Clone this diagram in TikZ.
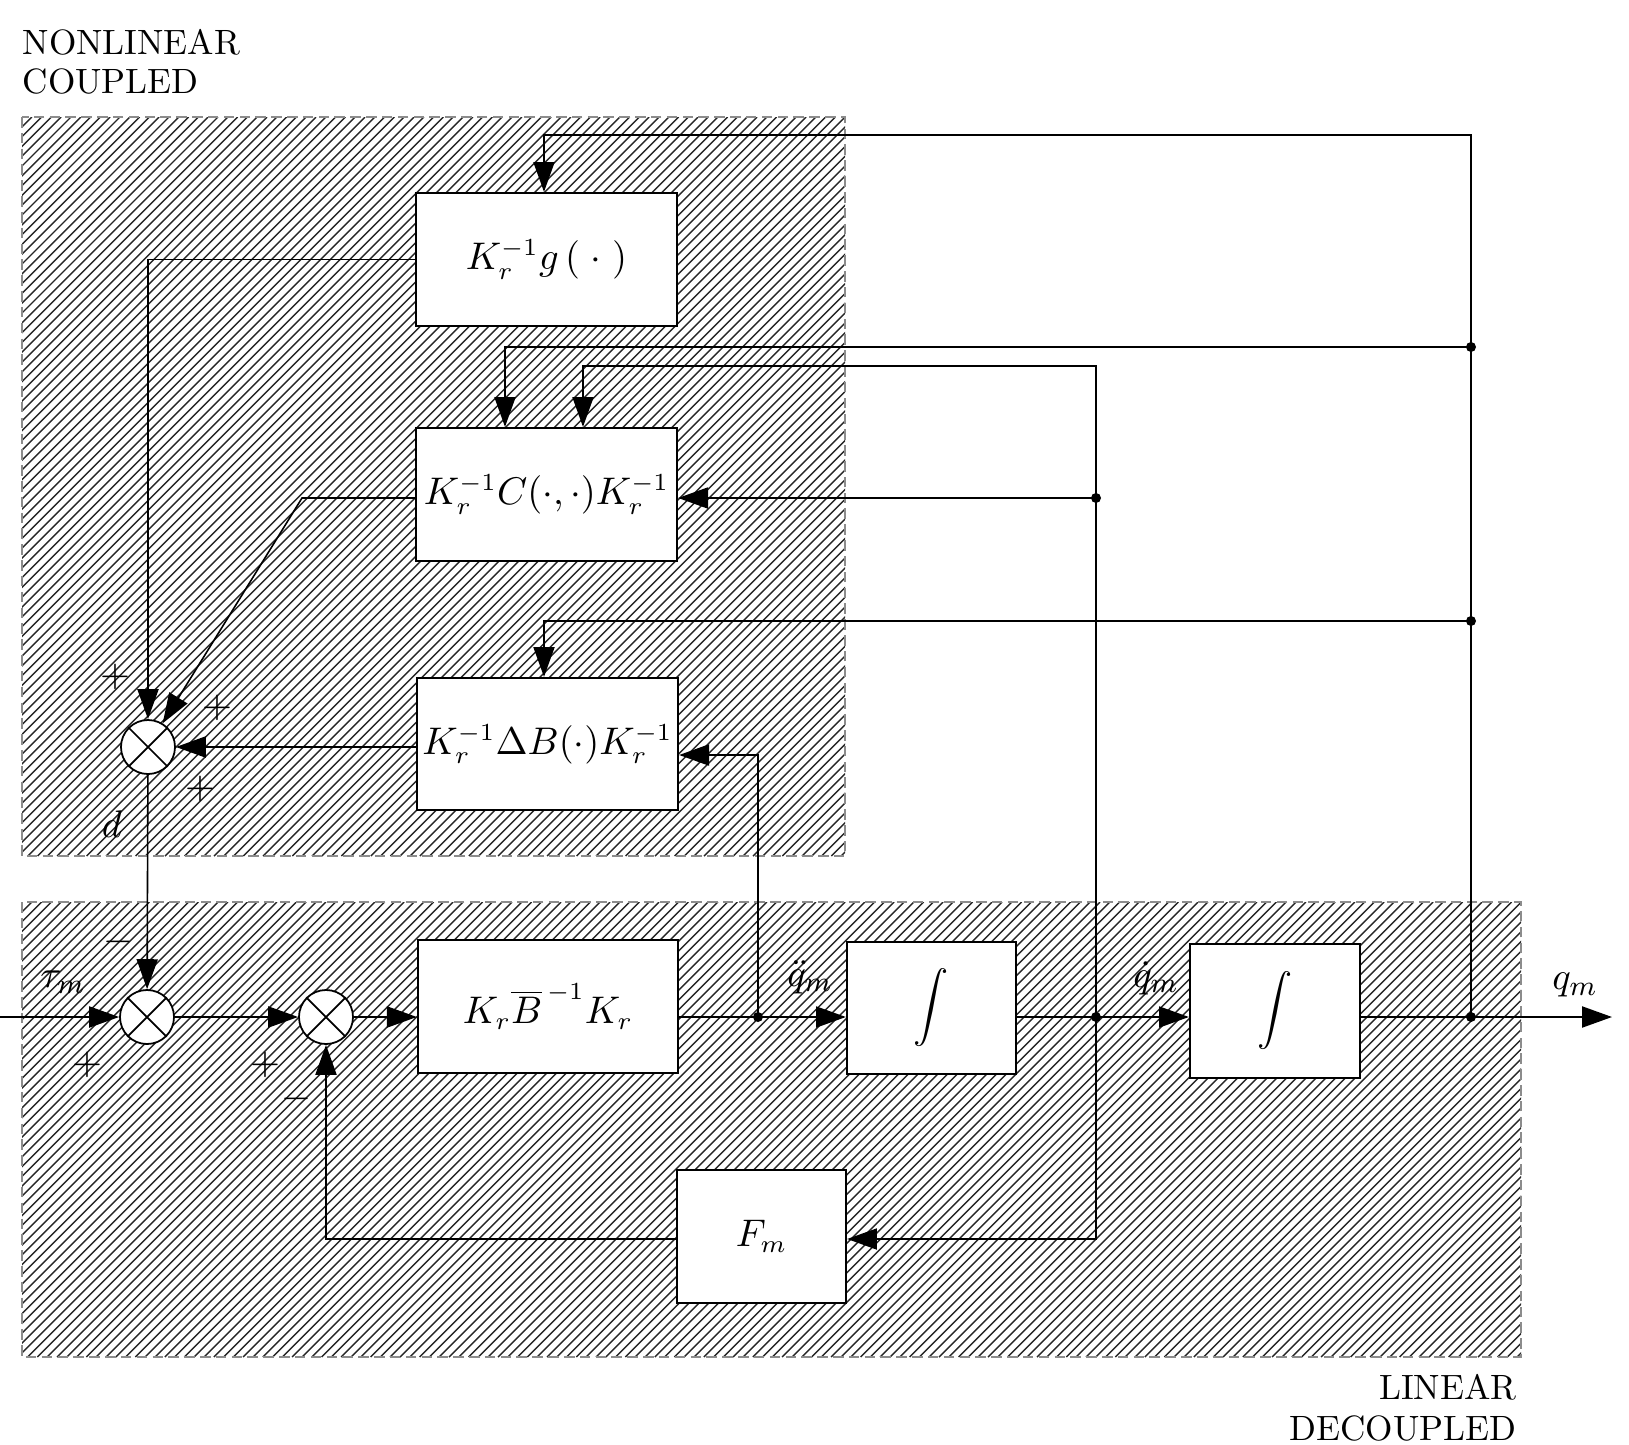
\documentclass[tikz,border=0pt]{standalone}
\usetikzlibrary{arrows.meta}
\begin{document}
\begin{tikzpicture}[x=0.01cm,y=-0.01cm,
  blk/.style={draw,line width=0.6pt,fill=white,inner sep=0pt,font=\fontsize{10.5}{12}\selectfont},
  sumj/.style={draw,line width=0.5pt,circle,fill=white,minimum size=0.54cm,inner sep=0pt},
  conn/.style={line width=0.45pt},
  arr/.style={conn,-{Triangle[length=8.5pt,width=6pt]}},
  dotj/.style={circle,fill=black,inner sep=0pt,minimum size=0.1cm},
  lbl/.style={inner sep=0pt,font=\fontsize{11}{12}\selectfont},
  ttl/.style={inner sep=0pt,font=\fontsize{10}{11}\selectfont},
  hatchl/.style={line width=0.4pt,black!85},
  region/.style={draw=black!45,dash pattern=on 3pt off 1.5pt,line width=0.4pt}]
\useasboundingbox (0,0) rectangle (1629,1445);

% ---------- hatched regions ----------
\begin{scope}
  \clip (22,117) rectangle (845,856);
  \foreach \i in {0,...,161} { \draw[hatchl] ({-717+\i*9.8},856) -- ++(739,-739); }
\end{scope}
\draw[region] (22,117) rectangle (845,856);
\begin{scope}
  \clip (22,902) rectangle (1521,1357);
  \foreach \i in {0,...,200} { \draw[hatchl] ({-433+\i*9.8},1357) -- ++(455,-455); }
\end{scope}
\draw[region] (22,902) rectangle (1521,1357);

% ---------- titles ----------
\node[ttl,anchor=base west] (tA) at (22,54) {NONLINEAR};
\node[ttl,anchor=base west] (tB) at (22,93) {COUPLED};
\node[ttl,anchor=base east] (tC) at (1517,1399) {LINEAR};
\node[ttl,anchor=base east] (tD) at (1517,1440) {DECOUPLED};

% ---------- blocks ----------
\node[blk,minimum width=2.61cm,minimum height=1.33cm] (g) at (546.5,259.5) {$K_r^{-1}g\,(\;\cdot\;)$};
\node[blk,minimum width=2.61cm,minimum height=1.33cm] (C) at (546.5,494.5) {$K_r^{-1}C(\cdot,\cdot)K_r^{-1}$};
\node[blk,minimum width=2.61cm,minimum height=1.32cm] (dB) at (547.5,744) {$K_r^{-1}\Delta B(\cdot)K_r^{-1}$};
\node[blk,minimum width=2.60cm,minimum height=1.33cm] (KBK) at (548,1006.5) {$K_r\overline{B}^{\,-1}K_r$};
\node[blk,minimum width=1.69cm,minimum height=1.32cm] (I1) at (931.5,1008) {$\displaystyle\int$};
\node[blk,minimum width=1.70cm,minimum height=1.34cm] (I2) at (1275,1011) {$\displaystyle\int$};
\node[blk,minimum width=1.69cm,minimum height=1.33cm] (Fm) at (761.5,1236.5) {$F_m$};

% ---------- summing junctions ----------
\node[sumj] (s1) at (148,747) {};
\node[sumj] (s2) at (147,1017) {};
\node[sumj] (s3) at (326,1017) {};
\foreach \s in {s1,s2,s3} {
  \draw[line width=0.5pt] (\s.north east) -- (\s.south west) (\s.north west) -- (\s.south east);
}

% ---------- coordinates ----------
\coordinate (in) at (0,1017);
\coordinate (out) at (1612,1017);
\coordinate (j1) at (758,1017);
\coordinate (j2) at (1096,1017);
\coordinate (j3) at (1471,1017);
\coordinate (t1) at (1471,135);
\coordinate (t2) at (544,135);
\coordinate (c1) at (1471,347);
\coordinate (c2) at (505,347);
\coordinate (c3) at (1096,366);
\coordinate (c4) at (583,366);
\coordinate (c5) at (1096,498);
\coordinate (b1) at (1471,621);
\coordinate (b2) at (544,621);
\coordinate (b3) at (758,755);
\coordinate (f1) at (1096,1239);
\coordinate (f2) at (326,1239);
\coordinate (cb) at (302,498);

% ---------- connectors ----------
\draw[arr] (in) -- (s2);
\draw[arr] (s2) -- (s3);
\draw[arr] (s3) -- (s3 -| KBK.west);
\draw[conn] (KBK.east |- j1) -- (j1);
\draw[arr] (j1) -- (j1 -| I1.west);
\draw[conn] (I1.east |- j2) -- (j2);
\draw[arr] (j2) -- (j2 -| I2.west);
\draw[conn] (I2.east |- j3) -- (j3);
\draw[arr] (j3) -- (out);
\draw[arr] (j3) -- (t1) -- (t2) -- (t2 |- g.north);
\draw[arr] (c1) -- (c2) -- (c2 |- C.north);
\draw[arr] (j2) -- (c3) -- (c4) -- (c4 |- C.north);
\draw[arr] (c5) -- (c5 -| C.east);
\draw[arr] (b1) -- (b2) -- (b2 |- dB.north);
\draw[arr] (j1) -- (b3) -- (b3 -| dB.east);
\draw[arr] (j2) -- (f1) -- (f1 -| Fm.east);
\draw[arr] (f1 -| Fm.west) -- (f2) -- (s3.south);
\draw[arr] (g.west) -| (s1.north);
\draw[arr] (C.west |- cb) -- (cb) -- (s1);
\draw[arr] (dB.west |- s1) -- (s1.east);
\draw[arr] (s1) -- (s2);

% ---------- junction dots ----------
\foreach \p in {j1,j2,j3,c1,c5,b1} { \node[dotj] at (\p) {}; }

% ---------- signs and signal labels ----------
\node[lbl] (p1) at (115,677) {$+$};
\node[lbl] (p2) at (217,708) {$+$};
\node[lbl] (p3) at (200,789) {$+$};
\node[lbl] (ld) at (112,824) {$d$};
\node[lbl] (m1) at (118,942) {$-$};
\node[lbl] (lt) at (63,982) {$\tau_m$};
\node[lbl] (p4) at (87,1065) {$+$};
\node[lbl] (p5) at (265,1065) {$+$};
\node[lbl] (m2) at (296,1099) {$-$};
\node[lbl] (lq2) at (810,977) {$\ddot{q}_m$};
\node[lbl] (lq1) at (1156,978) {$\dot{q}_m$};
\node[lbl] (lq0) at (1575,985) {$q_m$};
\end{tikzpicture}
\end{document}
